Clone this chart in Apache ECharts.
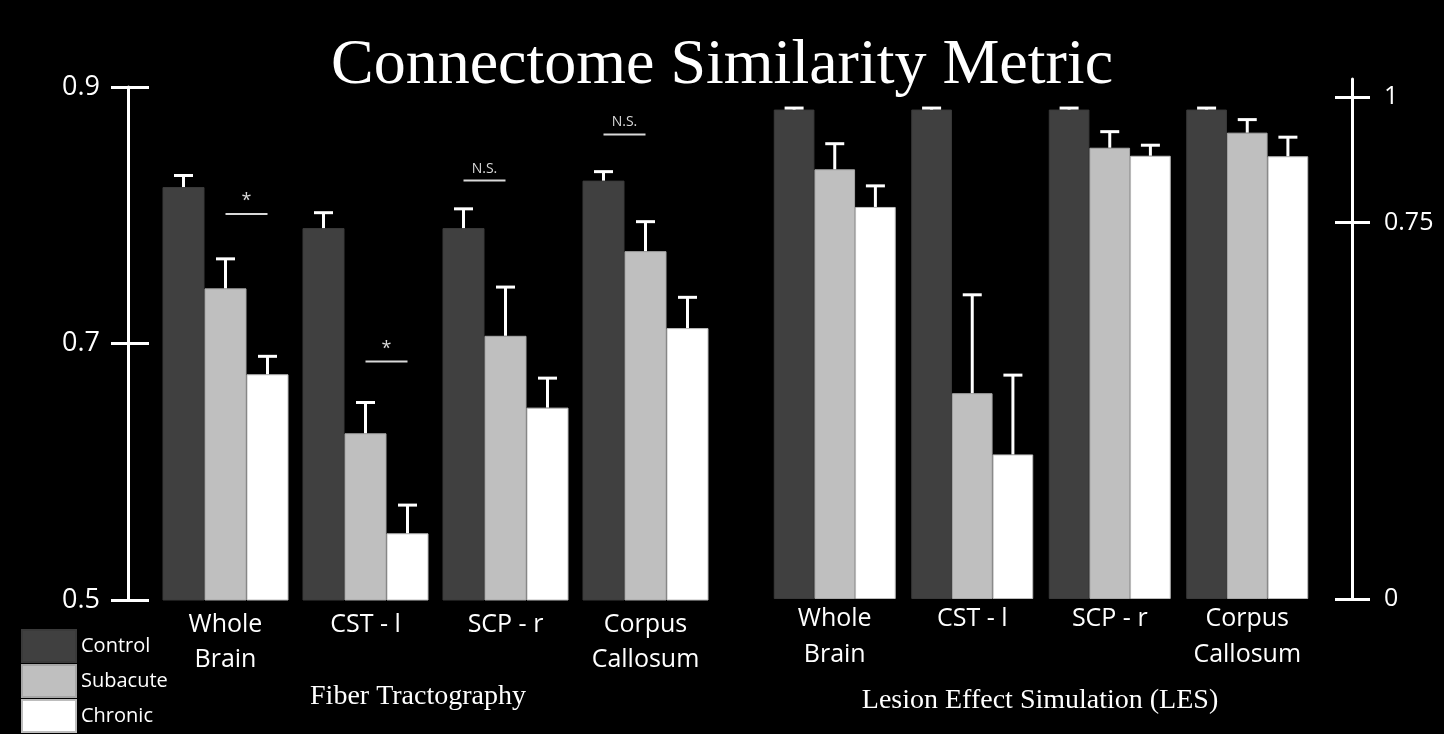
<!DOCTYPE html>
<html>
<head>
<meta charset="utf-8">
<title>Connectome Similarity Metric</title>
<script src="https://cdn.jsdelivr.net/npm/echarts@6/dist/echarts.min.js"></script>
<style>
  html, body { margin: 0; padding: 0; background: #000; }
  #chart { width: 1444px; height: 734px; }
</style>
</head>
<body>
<div id="chart"></div>
<script>
// Categories shared by both panels
const categories = ['Whole\nBrain', 'CST - l', 'SCP - r', 'Corpus\nCallosum'];
const groups = ['Control', 'Subacute', 'Chronic'];

// Fiber tractography (left panel)
const fiberControl = [0.822, 0.790, 0.790, 0.827];
const fiberControlErr = [0.009, 0.012, 0.015, 0.007];
const fiberSubacute = [0.743, 0.630, 0.706, 0.772];
const fiberSubacuteErr = [0.023, 0.024, 0.038, 0.023];
const fiberChronic = [0.676, 0.552, 0.650, 0.712];
const fiberChronicErr = [0.014, 0.022, 0.023, 0.024];

// Lesion effect simulation (right panel)
const lesControl = [0.975, 0.975, 0.975, 0.975];
const lesControlErr = [0.003, 0.003, 0.003, 0.003];
const lesSubacute = [0.856, 0.410, 0.899, 0.929];
const lesSubacuteErr = [0.051, 0.196, 0.032, 0.026];
const lesChronic = [0.781, 0.288, 0.883, 0.882];
const lesChronicErr = [0.042, 0.158, 0.021, 0.038];

// Axis tick labels
const fiberTicks = [0.5, 0.7, 0.9];
const lesTicks = [0, 0.75, 1];

// Significance brackets on the fiber panel
const sigCategory = [0, 1, 2, 3];
const sigLevel = [0.801, 0.686, 0.827, 0.863];
const sigLabels = ['*', '*', 'N.S.', 'N.S.'];
const sigPairs = [[1, 2], [1, 2], [0, 1], [0, 1]];

const colors = ['#404040', '#bfbfbf', '#ffffff'];
const borders = ['#3a3a3a', '#a6a6a6', '#bdbdbd'];
const sans = '"Open Sans", "Noto Sans", sans-serif';
const serif = '"Liberation Serif", "DejaVu Serif", serif';

const fiberGap = 0.10;
const lesGap = 0.113;

function errorBars(gap) {
  return function (params, api) {
    const cat = api.value(0), s = api.value(1), v = api.value(2), e = api.value(3);
    const band = api.size([1, 0])[0];
    const bw = band * (1 - gap) / 3;
    const base = api.coord([cat, v]);
    const top = api.coord([cat, v + e]);
    const x = base[0] + (s - 1) * bw;
    const style = { stroke: '#ffffff', lineWidth: 3 };
    return {
      type: 'group',
      children: [
        { type: 'line', shape: { x1: x, y1: base[1], x2: x, y2: top[1] }, style },
        { type: 'line', shape: { x1: x - 9.5, y1: top[1], x2: x + 9.5, y2: top[1] }, style }
      ]
    };
  };
}

function errorData(lists) {
  const out = [];
  lists.forEach(function (pair, s) {
    pair[0].forEach(function (v, i) { out.push([i, s, v, pair[1][i]]); });
  });
  return out;
}

function sigBrackets(params, api) {
  const i = params.dataIndex;
  const cat = api.value(0), lvl = api.value(1);
  const band = api.size([1, 0])[0];
  const bw = band * (1 - fiberGap) / 3;
  const c = api.coord([cat, lvl]);
  const x1 = c[0] + (sigPairs[i][0] - 1) * bw;
  const x2 = c[0] + (sigPairs[i][1] - 1) * bw;
  const star = sigLabels[i] === '*';
  return {
    type: 'group',
    children: [
      { type: 'line', shape: { x1: x1, y1: c[1], x2: x2, y2: c[1] },
        style: { stroke: '#d9d9d9', lineWidth: 2 } },
      { type: 'text', x: (x1 + x2) / 2, y: c[1] - (star ? 13 : 12),
        style: { text: sigLabels[i], fill: '#d9d9d9', align: 'center', verticalAlign: 'middle',
                 font: (star ? '18px ' : '14px ') + sans } }
    ]
  };
}

function barSeries(name, data, idx, axis, gap) {
  return {
    name: name, type: 'bar', xAxisIndex: axis, yAxisIndex: axis * 2,
    data: data, barGap: 0, barCategoryGap: (gap * 100) + '%',
    itemStyle: { color: colors[idx], borderColor: borders[idx], borderWidth: 1 },
    emphasis: { disabled: true }, z: 2
  };
}

function yAxisPair(gridIndex, min, max, ticks, position, offset, outLen, inLen, margin, size) {
  const common = {
    type: 'value', gridIndex: gridIndex, min: min, max: max, position: position, offset: offset,
    splitLine: { show: false }
  };
  return [
    Object.assign({}, common, {
      axisLine: { show: true, lineStyle: { color: '#ffffff', width: 3 } },
      axisTick: { show: true, inside: false, length: outLen, customValues: ticks,
                  lineStyle: { color: '#ffffff', width: 3 } },
      axisLabel: { show: true, customValues: ticks, margin: margin, color: '#ffffff',
                   fontSize: size, fontFamily: sans, showMinLabel: true, showMaxLabel: true }
    }),
    Object.assign({}, common, {
      axisLine: { show: false },
      axisTick: { show: true, inside: true, length: inLen, customValues: ticks,
                  lineStyle: { color: '#ffffff', width: 3 } },
      axisLabel: { show: false }
    })
  ];
}

const chart = echarts.init(document.getElementById('chart'), null, { renderer: 'canvas' });

chart.setOption({
  backgroundColor: '#000000',
  animation: false,
  title: {
    text: 'Connectome Similarity Metric', left: 'center', top: 34, padding: 0,
    textStyle: { color: '#ffffff', fontFamily: serif, fontWeight: 'normal', fontSize: 64 }
  },
  legend: {
    data: groups, orient: 'vertical', left: 21, top: 629, padding: 0,
    itemWidth: 54, itemHeight: 32, itemGap: 1, icon: 'rect',
    textStyle: { color: '#ffffff', fontSize: 20, fontFamily: sans, padding: [4, 0, 0, 0] },
    selectedMode: false
  },
  grid: [
    { left: 155.5, width: 560, top: 87, height: 513 },
    { left: 766, width: 550, top: 79, height: 520 }
  ],
  xAxis: [0, 1].map(function (g) {
    return {
      type: 'category', gridIndex: g, data: categories,
      axisLine: { show: false }, axisTick: { show: false },
      axisLabel: { color: '#ffffff', fontSize: 25, fontFamily: sans, interval: 0,
                   lineHeight: g === 0 ? 35 : 36, margin: g === 0 ? 7 : 2 }
    };
  }),
  yAxis: yAxisPair(0, 0.5, 0.9, fiberTicks, 'left', 27.5, 17, 21, 28, 27)
    .concat(yAxisPair(1, 0, 1.0359, lesTicks, 'right', 36, 18, 17, 32, 25)),
  graphic: [
    { type: 'text', x: 418, y: 697,
      style: { text: 'Fiber Tractography', fill: '#ffffff', font: '28px ' + serif,
               align: 'center', verticalAlign: 'middle' } },
    { type: 'text', x: 1040, y: 701,
      style: { text: 'Lesion Effect Simulation (LES)', fill: '#ffffff', font: '28px ' + serif,
               align: 'center', verticalAlign: 'middle' } }
  ],
  series: [
    barSeries('Control', fiberControl, 0, 0, fiberGap),
    barSeries('Subacute', fiberSubacute, 1, 0, fiberGap),
    barSeries('Chronic', fiberChronic, 2, 0, fiberGap),
    barSeries('Control', lesControl, 0, 1, lesGap),
    barSeries('Subacute', lesSubacute, 1, 1, lesGap),
    barSeries('Chronic', lesChronic, 2, 1, lesGap),
    {
      type: 'custom', xAxisIndex: 0, yAxisIndex: 0, z: 3,
      renderItem: errorBars(fiberGap),
      encode: { x: 0, y: 2 },
      data: errorData([[fiberControl, fiberControlErr], [fiberSubacute, fiberSubacuteErr],
                       [fiberChronic, fiberChronicErr]])
    },
    {
      type: 'custom', xAxisIndex: 1, yAxisIndex: 2, z: 3,
      renderItem: errorBars(lesGap),
      encode: { x: 0, y: 2 },
      data: errorData([[lesControl, lesControlErr], [lesSubacute, lesSubacuteErr],
                       [lesChronic, lesChronicErr]])
    },
    {
      type: 'custom', xAxisIndex: 0, yAxisIndex: 0, z: 3,
      renderItem: sigBrackets,
      encode: { x: 0, y: 1 },
      data: sigCategory.map(function (c, i) { return [c, sigLevel[i]]; })
    }
  ]
});
</script>
</body>
</html>
